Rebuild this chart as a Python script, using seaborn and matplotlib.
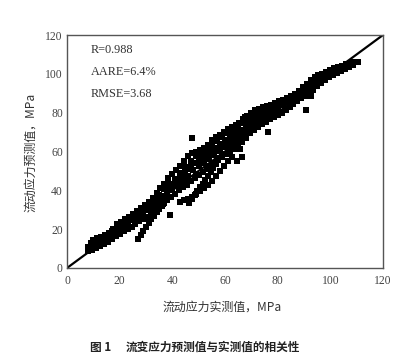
import numpy as np
import pandas as pd
import matplotlib
matplotlib.use("Agg")
import matplotlib.pyplot as plt
import seaborn as sns

# ---------------- data ----------------
# upper edge of the main band
upper_x = [8, 9, 10, 11.5, 13, 14.5, 16, 17.5, 19, 20.5, 22, 23.5, 25, 26.5, 28, 29.5, 31, 32.5,
           34, 35.5, 37, 38.5, 40, 41.5, 43, 44.5, 46, 47.5, 49, 50.5, 52, 53.5, 55, 56.5, 58, 59.5,
           61, 62.5, 64, 65.5, 67, 68.5, 70, 71.5, 73, 74.5, 76, 77.5, 79, 80.5, 82, 83.5, 85, 86.5,
           88, 89.5, 91, 92.5, 94, 95.5, 97, 98.5, 100, 101.5, 103, 104.5, 106, 107.5, 109, 110.5]
upper_y = [11, 13, 14.5, 15.2, 16, 16.8, 18, 20.2, 22.5, 23.8, 25, 26.5, 28, 29.5, 31, 32.5, 34, 36,
           38.5, 41, 43.5, 46.5, 48.5, 50.5, 52.5, 55, 57.5, 59, 60, 61, 62, 63.5, 66, 67.5, 68.5, 70,
           71.5, 72.8, 73.8, 74.8, 76.5, 78.5, 80, 81.2, 82, 82.8, 83.5, 84.2, 85, 85.8, 86.5, 87.5, 88.5, 89.5,
           91, 93.2, 95, 97, 98.5, 99.2, 100, 101.2, 102, 102.8, 103.5, 104.2, 105, 105.8, 106, 106]

# lower edge of the main band
lower_x = [8, 9.5, 11, 12.5, 14, 15.5, 17, 18.5, 20, 21.5, 23, 24.5, 26, 27.5, 29, 30.5, 32, 33.5,
           35, 36.5, 38, 39.5, 41, 42.5, 44, 45.5, 47, 48.5, 50, 51.5, 53, 54.5, 56, 57.5, 59, 60.5,
           62, 63.5, 65, 66.5, 68, 69.5, 71, 72.5, 74, 75.5, 77, 78.5, 80, 81.5, 83, 84.5, 86, 87.5,
           89, 90.5, 92, 93.5, 95, 96.5, 98, 99.5, 101, 102.5, 104, 105.5, 107, 108.5]
lower_y = [8.5, 9.5, 10.5, 11.5, 12.5, 13.5, 15, 16.5, 17.5, 18.8, 20, 21, 22.5, 24, 25.2, 26.5, 28, 29.5,
           31, 33, 35, 36.5, 38, 40, 41.5, 43, 45, 46.5, 48, 49.5, 51, 52.5, 54, 55.5, 57, 58.5,
           60, 61.5, 63, 65, 67, 69.5, 71, 72.5, 74, 75, 76.5, 78, 79, 80, 81.5, 83, 84.5, 86,
           87.5, 88.5, 90, 91.5, 93.5, 95.5, 97, 98.5, 99.5, 100.5, 101.5, 102.5, 103.5, 104.5]

# inner rows of the band
mid_a_x = [14, 16, 18, 20, 22, 24, 26, 28, 30, 32, 34, 36, 38, 40, 42, 44, 46, 48, 50, 52, 54, 56,
           58, 60, 62, 64, 66, 68, 70, 72, 74, 76, 78, 80, 82, 84, 86, 88, 90, 92, 94, 96, 98, 100]
mid_a_y = [14.5, 16, 18.5, 20.5, 22.5, 24.5, 26.5, 28.5, 30, 32, 34.5, 37, 40, 43, 45.5, 48, 51, 54,
           56, 58, 60, 62, 64, 66, 68, 69.5, 71, 74, 76, 78, 79.5, 80.5, 81.5, 82.5, 84, 85.5, 87,
           88.5, 90.5, 93, 95.5, 97, 99, 100.5]
mid_b_x = [34, 36, 38, 40, 42, 44, 46, 48, 50, 52, 54, 56, 58, 60, 62, 64, 66, 68, 70, 72, 74, 76, 78]
mid_b_y = [32, 34.5, 37.5, 40, 42.5, 45, 47.5, 50.5, 52.5, 54, 56, 58, 60.5, 62.5, 64.5, 66, 68,
           70.5, 73, 75, 77, 78, 79.5]
mid_c_x = [33, 35, 37, 39, 41, 43, 45, 47, 49, 51, 53, 55, 57, 59, 61, 63, 65]
mid_c_y = [35, 37.5, 40.5, 43.5, 46, 49, 52, 55, 57.5, 59, 60.5, 63, 65.5, 67.5, 69.5, 71, 72.5]
fill1_x = [41, 43, 45, 47, 49, 51, 53, 55, 57, 59, 61, 63, 65, 67, 69, 71, 73, 75, 77, 79]
fill1_y = [42.7, 46.5, 49.2, 52, 54, 55.5, 57, 59, 61.2, 63, 65, 66.8, 68.5, 71, 73.5, 75.5, 77.5,
           79, 80, 81]
fill2_x = [67, 69, 71, 73, 75, 77, 79, 81, 83, 85, 87, 89, 91, 93, 95, 97]
fill2_y = [74.5, 77, 79, 80.5, 81.5, 82.5, 83.5, 84.7, 86, 87.4, 89, 91, 93.5, 96, 97.7, 99]
fill3_x = [45, 49, 53, 57, 61, 63, 65, 67, 69, 71, 73, 75, 77]
fill3_y = [44.3, 48.5, 52.5, 56.5, 61.5, 63.3, 65, 67.5, 70.2, 72.5, 74.7, 76.5, 77.6]
fill4_x = [9, 11, 13, 15, 17, 19, 21, 23, 25, 27, 29, 31, 33]
fill4_y = [11.2, 12.8, 14, 15.3, 17.2, 19.8, 21.4, 23, 24.8, 26.8, 28.8, 30.8, 32.8]
fill5_x = [17, 19, 21, 23, 25, 27, 29, 31, 33]
fill5_y = [18.8, 21.5, 23, 25, 26.7, 28.5, 30.5, 32.5, 34.8]

# steep branches below the band
branch1_x = [27, 28, 29, 30, 31, 32, 33, 34, 35, 36, 37]
branch1_y = [15, 17, 19, 21, 23, 25, 27, 29, 30.5, 32, 33.5]
branch2_x = [43, 44.5, 46, 47.5, 49, 50.5, 52, 53.5, 55, 56.5, 58, 59.5, 61, 62.5]
branch2_y = [34, 35, 35.5, 36.5, 38, 39.5, 41, 43, 45, 47.5, 50, 52.5, 55, 57]
branch3_x = [46.5, 47.5, 48.5, 49.5, 50.5, 51.5, 52.5, 53.5, 54.5, 55.5, 56.5]
branch3_y = [33.5, 35.5, 37.5, 39.5, 41.5, 43.5, 45.5, 47.5, 49.5, 51.5, 53.5]

# scattered points
outlier_x = [39, 47.4, 65.7, 66.3, 64.4, 76.5, 90.6, 92.5, 56.8, 63, 67.6, 74, 73.3]
outlier_y = [27.3, 67.1, 61.5, 57.3, 55.3, 70.2, 81.2, 88.8, 66.8, 71, 77.6, 81.9, 81.4]

axis_ticks = [0, 20, 40, 60, 80, 100, 120]
minor_ticks = [10, 30, 50, 70, 90, 110]
ref_line = [0, 120]
stats_labels = ["R=0.988", "AARE=6.4%", "RMSE=3.68"]

x_label = "流动应力实测值，MPa"
y_label = "流动应力预测值，MPa"
caption_num = "图 1"
caption_txt = "流变应力预测值与实测值的相关性"

# ---------------- build table ----------------
groups = [(upper_x, upper_y), (lower_x, lower_y), (mid_a_x, mid_a_y), (mid_b_x, mid_b_y),
          (mid_c_x, mid_c_y), (fill1_x, fill1_y), (fill2_x, fill2_y), (fill3_x, fill3_y),
          (fill4_x, fill4_y), (fill5_x, fill5_y), (branch1_x, branch1_y),
          (branch2_x, branch2_y), (branch3_x, branch3_y), (outlier_x, outlier_y)]
xs, ys = [], []
for gx, gy in groups:
    xs += gx
    ys += gy
df = pd.DataFrame({"measured": xs, "predicted": ys})

# ---------------- figure ----------------
sns.set_theme(style="white")
plt.rcParams["font.family"] = ["Liberation Serif", "DejaVu Serif"]

W, H = 402, 359
fig = plt.figure(figsize=(W / 100, H / 100), dpi=100)
fig.patch.set_facecolor("white")
L, R, T, B = 67, 383, 35, 268
ax = fig.add_axes([L / W, 1 - B / H, (R - L) / W, (B - T) / H])

ax.plot(ref_line, ref_line, color="black", lw=1.6, zorder=1)
sns.scatterplot(data=df, x="measured", y="predicted", marker="s", s=21,
                color="black", linewidth=0, ax=ax, zorder=2)

ax.set_xlim(0, 120)
ax.set_ylim(0, 120)
ax.set_xticks(axis_ticks)
ax.set_yticks(axis_ticks)
ax.set_xticks(minor_ticks, minor=True)
ax.set_yticks(minor_ticks, minor=True)
ax.tick_params(which="major", direction="in", length=4, width=0.9, color="#444",
               labelsize=8.4, labelcolor="#444", top=False, right=False)
ax.tick_params(which="minor", direction="in", length=2.5, width=0.8, color="#444",
               top=False, right=False)
ax.tick_params(axis="x", which="major", pad=5)
ax.tick_params(axis="y", which="major", pad=3)
for sp in ax.spines.values():
    sp.set_color("#555")
    sp.set_linewidth(1.0)
    sp.set_visible(True)
ax.set_xlabel("")
ax.set_ylabel("")

for i, t in enumerate(stats_labels):
    ax.text(0.074, 0.935 - i * 0.095, t, transform=ax.transAxes, fontsize=8.8,
            color="#333", ha="left", va="center")

cjk = ["Noto Sans CJK SC", "DejaVu Sans"]
fig.text(222 / W, 1 - 307 / H, x_label, family=cjk, fontsize=8.6, color="#333",
         ha="center", va="center")
fig.text(31 / W, 1 - 152 / H, y_label, family=cjk, fontsize=8.6, color="#333",
         ha="center", va="center", rotation=90)
fig.text(90 / W, 1 - 347 / H, caption_num, family=cjk, fontsize=8.4, color="#222",
         ha="left", va="center", weight="bold")
fig.text(126 / W, 1 - 347 / H, caption_txt, family=cjk, fontsize=8.4, color="#222",
         ha="left", va="center", weight="bold")

fig.savefig("out.png", dpi=100, facecolor="white")
